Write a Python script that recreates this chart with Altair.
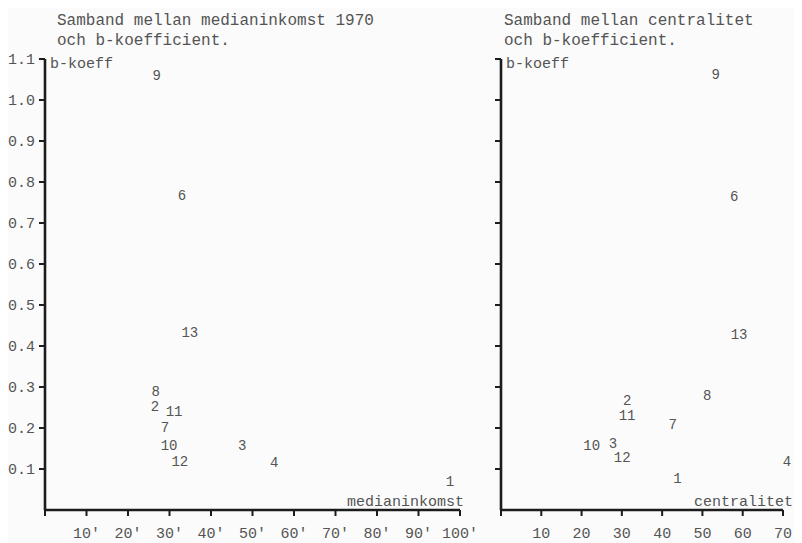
import altair as alt
import pandas as pd

# ---- data ----
labels = ["1", "2", "3", "4", "6", "7", "8", "9", "10", "11", "12", "13"]
medianinkomst = [97.6, 26.5, 47.5, 55.2, 33.0, 28.9, 26.7, 26.9, 29.9, 31.1, 32.5, 34.9]
b_koeff_inkomst = [0.068, 0.251, 0.156, 0.115, 0.766, 0.200, 0.288, 1.059, 0.156, 0.239, 0.117, 0.432]
centralitet = [43.8, 31.3, 27.8, 71.0, 57.9, 42.6, 51.2, 53.3, 22.5, 31.3, 30.1, 59.1]
b_koeff_central = [0.076, 0.267, 0.162, 0.117, 0.764, 0.208, 0.279, 1.060, 0.156, 0.229, 0.127, 0.427]

y_ticks = [0.1, 0.2, 0.3, 0.4, 0.5, 0.6, 0.7, 0.8, 0.9, 1.0, 1.1]
y_tick_labels = ["0.1", "0.2", "0.3", "0.4", "0.5", "0.6", "0.7", "0.8", "0.9", "1.0", "1.1"]
inc_ticks = [0, 10, 20, 30, 40, 50, 60, 70, 80, 90, 100]
inc_tick_labels = ["", "10'", "20'", "30'", "40'", "50'", "60'", "70'", "80'", "90'", "100'"]
cen_ticks = [0, 10, 20, 30, 40, 50, 60, 70]
cen_tick_labels = ["", "10", "20", "30", "40", "50", "60", "70"]

title_left = "Samband mellan medianinkomst 1970\noch b-koefficient."
title_right = "Samband mellan centralitet\noch b-koefficient."

# ---- style ----
FONT = "Liberation Mono"
FS = 15
TXT = "#545454"
AX = "#1c1c1c"

y_scale = alt.Scale(domain=[0, 1.1], range=[502, 51])
xl_scale = alt.Scale(domain=[0, 100], range=[37, 452])
xr_scale = alt.Scale(domain=[0, 70], range=[493, 775])


def panel(xs, ys, xticks, xlabels, xscale, xtitle, xtitle_dx, show_ylabels, title_text, title_x):
    pts = pd.DataFrame({"x": xs, "y": ys, "lab": labels})
    yt = pd.DataFrame({"x": [0] * len(y_ticks), "y": y_ticks, "lab": y_tick_labels})
    xt = pd.DataFrame({"x": xticks, "y": [0] * len(xticks), "lab": xlabels})
    xmax = max(xticks)
    ymax = max(y_ticks)
    axes = pd.DataFrame({"x": [0, 0], "x2": [0, xmax], "y": [0, 0], "y2": [ymax, 0]})
    corner = pd.DataFrame({"x": [0, xmax], "y": [ymax, 0],
                           "lab": ["b-koeff", xtitle]})
    tdf = pd.DataFrame({"t": [title_text]})

    X = lambda f: alt.X(f, scale=xscale, axis=None)
    Y = lambda f: alt.Y(f, scale=y_scale, axis=None)

    layers = []
    layers.append(alt.Chart(axes).mark_rule(color=AX, strokeWidth=2.6).encode(
        x=X("x:Q"), x2="x2:Q", y=Y("y:Q"), y2="y2:Q"))
    layers.append(alt.Chart(yt).mark_rule(color=AX, strokeWidth=2, x2Offset=-6).encode(
        x=X("x:Q"), x2="x:Q", y=Y("y:Q")))
    layers.append(alt.Chart(xt).mark_rule(color=AX, strokeWidth=2, y2Offset=6).encode(
        x=X("x:Q"), y=Y("y:Q"), y2="y:Q"))
    if show_ylabels:
        layers.append(alt.Chart(yt).mark_text(
            align="right", baseline="middle", dx=-10, font=FONT, fontSize=FS, color=TXT
        ).encode(x=X("x:Q"), y=Y("y:Q"), text="lab:N"))
    layers.append(alt.Chart(xt).mark_text(
        align="center", baseline="middle", dy=23, font=FONT, fontSize=FS, color=TXT
    ).encode(x=X("x:Q"), y=Y("y:Q"), text="lab:N"))
    layers.append(alt.Chart(corner.iloc[[0]]).mark_text(
        align="left", baseline="middle", dx=5, dy=4, font=FONT, fontSize=FS, color=TXT
    ).encode(x=X("x:Q"), y=Y("y:Q"), text="lab:N"))
    layers.append(alt.Chart(corner.iloc[[1]]).mark_text(
        align="right", baseline="middle", dx=xtitle_dx, dy=-9, font=FONT, fontSize=FS, color=TXT
    ).encode(x=X("x:Q"), y=Y("y:Q"), text="lab:N"))
    layers.append(alt.Chart(pts).mark_text(
        align="center", baseline="middle", font=FONT, fontSize=14, color=TXT
    ).encode(x=X("x:Q"), y=Y("y:Q"), text="lab:N"))
    layers.append(alt.Chart(tdf).mark_text(
        align="left", baseline="alphabetic", lineBreak="\n", lineHeight=20,
        font=FONT, fontSize=16, color=TXT
    ).encode(x=alt.value(title_x), y=alt.value(17), text="t:N"))
    return layers


layers = panel(medianinkomst, b_koeff_inkomst, inc_ticks, inc_tick_labels, xl_scale,
               "medianinkomst", 4, True, title_left, 49)
layers += panel(centralitet, b_koeff_central, cen_ticks, cen_tick_labels, xr_scale,
                "centralitet", 10, False, title_right, 496)

chart = alt.layer(*layers).resolve_scale(x="independent").properties(
    width=786, height=535,
    autosize=alt.AutoSizeParams(type="none"),
    padding=0,
    background="#fbfbfb",
).configure_view(stroke=None)

chart.save("out.html", embed_options={"renderer": "svg", "actions": False})
